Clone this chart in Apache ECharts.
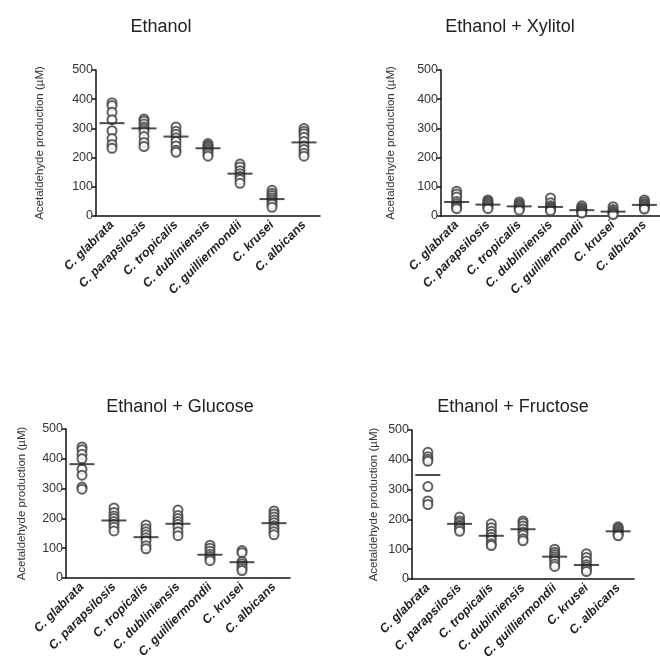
<!DOCTYPE html>
<html>
<head>
<meta charset="utf-8">
<script src="https://cdn.jsdelivr.net/npm/echarts@6/dist/echarts.min.js"></script>
<style>
  html, body { margin: 0; padding: 0; background: #fff; }
  #main { width: 660px; height: 672px; }
</style>
</head>
<body>
<div id="main"></div>
<script>
var categories = ['C. glabrata', 'C. parapsilosis', 'C. tropicalis', 'C. dubliniensis', 'C. guilliermondii', 'C. krusei', 'C. albicans'];
var yTicks = [0, 100, 200, 300, 400, 500];
var panelTitles = ['Ethanol', 'Ethanol + Xylitol', 'Ethanol + Glucose', 'Ethanol + Fructose'];

// individual measurements, one list per species
var ethanolValues = [
  [388, 378, 355, 330, 292, 265, 245, 232],
  [332, 325, 315, 305, 298, 290, 272, 252, 238],
  [305, 290, 280, 268, 255, 240, 225, 218],
  [248, 242, 238, 232, 226, 220, 212, 205],
  [178, 168, 155, 145, 135, 125, 112],
  [88, 78, 70, 62, 55, 48, 40, 30],
  [300, 290, 282, 270, 255, 240, 228, 215, 205]
];
var ethanolMeans = [318, 300, 272, 232, 145, 58, 252];

var xylitolValues = [
  [85, 75, 65, 50, 42, 35, 30, 25],
  [55, 50, 45, 40, 35, 30, 25],
  [48, 42, 38, 33, 28, 25, 20],
  [62, 45, 35, 30, 26, 22, 18],
  [35, 28, 24, 20, 16, 12, 10],
  [32, 22, 16, 12, 8, 5],
  [55, 48, 42, 38, 33, 28, 24]
];
var xylitolMeans = [48, 39, 33, 31, 20, 15, 38];

var glucoseValues = [
  [440, 430, 415, 400, 365, 345, 305, 298],
  [235, 220, 208, 200, 190, 180, 170, 158],
  [178, 165, 155, 145, 135, 125, 108, 98],
  [228, 210, 200, 190, 180, 170, 155, 142],
  [110, 100, 90, 80, 72, 65, 58],
  [92, 85, 55, 48, 40, 32, 25],
  [225, 215, 205, 195, 185, 175, 165, 155, 145]
];
var glucoseMeans = [382, 193, 137, 182, 78, 53, 184];

var fructoseValues = [
  [425, 410, 402, 395, 310, 262, 250],
  [208, 195, 188, 180, 175, 168, 160],
  [185, 172, 160, 150, 140, 130, 118, 112],
  [195, 188, 178, 168, 158, 148, 135, 128],
  [100, 90, 82, 75, 68, 60, 50, 42],
  [85, 72, 60, 48, 40, 32, 25],
  [175, 170, 165, 160, 155, 150, 145]
];
var fructoseMeans = [349, 185, 145, 167, 75, 47, 160];

var panelValues = [ethanolValues, xylitolValues, glucoseValues, fructoseValues];
var panelMeans = [ethanolMeans, xylitolMeans, glucoseMeans, fructoseMeans];

var fontFam = '"Liberation Sans", Arial, sans-serif';

var grids = [
  { left: 96, top: 70, width: 224, height: 146 },
  { left: 441, top: 70, width: 219, height: 146 },
  { left: 66, top: 429, width: 224, height: 149 },
  { left: 412, top: 430, width: 222, height: 149 }
];
var nameGaps = [50, 44, 38, 32];
var titlePos = [[161, 18], [510, 18], [180, 398], [513, 398]];

var xAxes = [], yAxes = [], series = [], graphics = [];

grids.forEach(function (g, i) {
  xAxes.push({
    type: 'category', gridIndex: i, data: categories,
    axisLine: { lineStyle: { color: '#111', width: 1.5 } },
    axisTick: { alignWithLabel: true, interval: 0, length: 4, lineStyle: { color: '#111', width: 1.5 } },
    axisLabel: {
      interval: 0, rotate: 45, margin: 7, color: '#222',
      fontSize: 12.5, fontWeight: 'bold', fontStyle: 'italic', fontFamily: fontFam
    },
    splitLine: { show: false }
  });
  yAxes.push({
    type: 'value', gridIndex: i, min: yTicks[0], max: yTicks[yTicks.length - 1], interval: 100,
    name: 'Acetaldehyde production (\u00b5M)', nameLocation: 'middle', nameGap: nameGaps[i],
    nameTextStyle: { fontSize: 11.5, color: '#333', fontFamily: fontFam },
    axisLine: { show: true, lineStyle: { color: '#111', width: 1.5 } },
    axisTick: { show: true, length: 4, lineStyle: { color: '#111', width: 1.5 } },
    axisLabel: { fontSize: 12.5, color: '#333', margin: 3, fontFamily: fontFam },
    splitLine: { show: false }
  });

  var pts = [];
  panelValues[i].forEach(function (vals, c) {
    vals.forEach(function (v) { pts.push([c, v]); });
  });
  series.push({
    type: 'scatter', xAxisIndex: i, yAxisIndex: i, data: pts,
    symbol: 'emptyCircle', symbolSize: 9,
    itemStyle: { color: '#444', borderWidth: 1.3, opacity: 0.85 },
    silent: true
  });
  series.push({
    type: 'scatter', xAxisIndex: i, yAxisIndex: i,
    data: panelMeans[i].map(function (m, c) { return [c, m]; }),
    symbol: 'rect', symbolSize: [25, 2],
    itemStyle: { color: '#222' }, z: 3, silent: true
  });

  graphics.push({
    type: 'text', x: titlePos[i][0], y: titlePos[i][1],
    style: { text: panelTitles[i], fill: '#222', font: '18px ' + fontFam, textAlign: 'center' }
  });
});

var myChart = echarts.init(document.getElementById('main'));
myChart.setOption({
  animation: false,
  backgroundColor: '#fff',
  grid: grids,
  xAxis: xAxes,
  yAxis: yAxes,
  series: series,
  graphic: graphics
});
</script>
</body>
</html>
